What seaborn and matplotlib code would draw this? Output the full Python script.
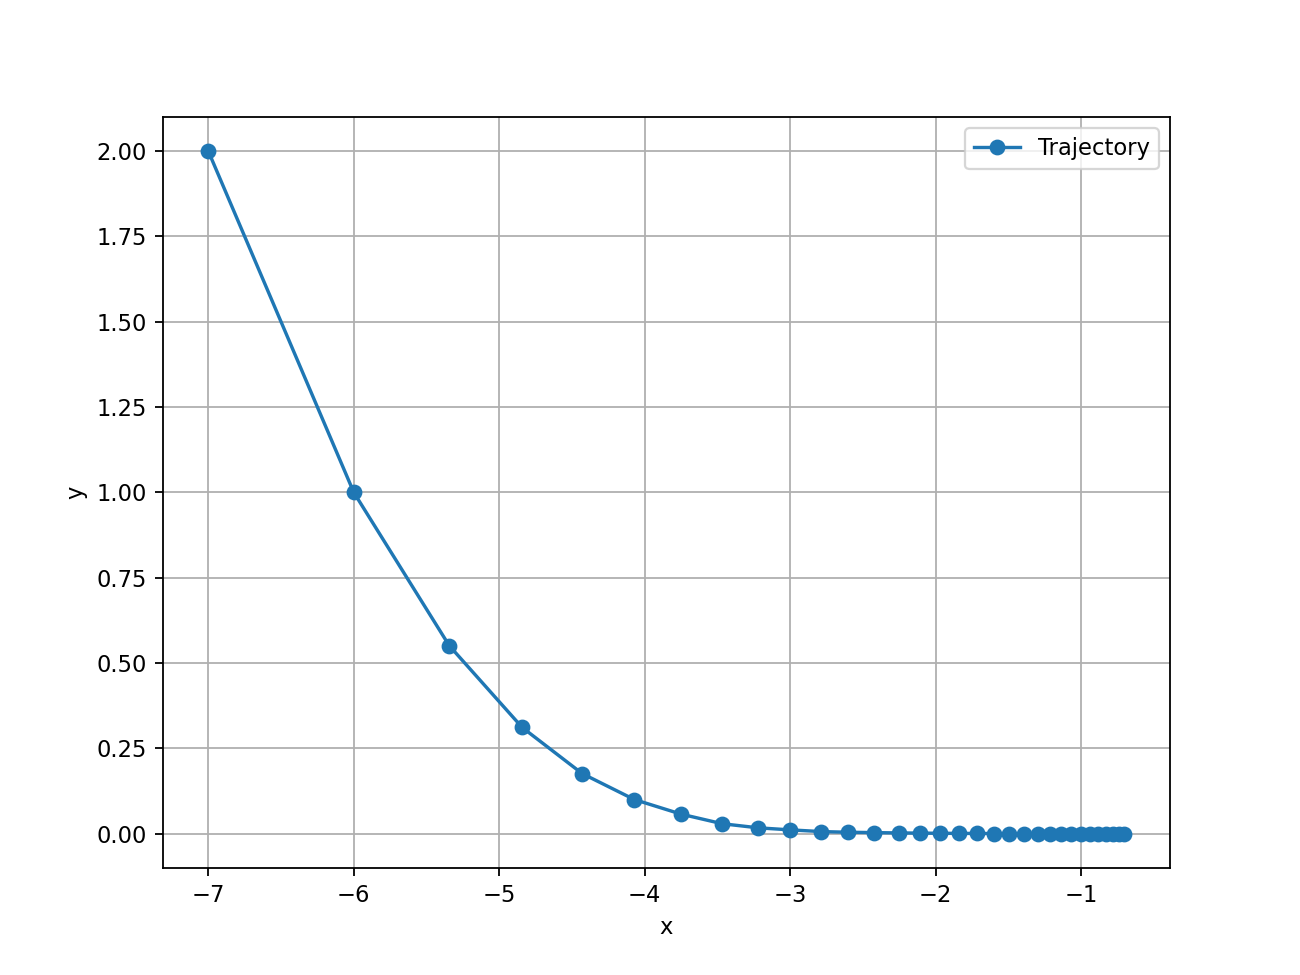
import seaborn as sns
import matplotlib.pyplot as plt
import pandas as pd

# --- Trajectory points ---
x_vals = [-7.0, -6.0, -5.344, -4.842, -4.430, -4.072, -3.749, -3.467, -3.220,
          -3.0, -2.787, -2.601, -2.423, -2.251, -2.107, -1.969, -1.838, -1.715,
          -1.598, -1.495, -1.392, -1.296, -1.213, -1.138, -1.069, -1.0, -0.938,
          -0.883, -0.828, -0.780, -0.739, -0.704]
y_vals = [2.0, 1.0, 0.551, 0.311, 0.176, 0.100, 0.057, 0.029, 0.017,
          0.011, 0.006, 0.004, 0.003, 0.002, 0.0015, 0.001, 0.0007, 0.0005,
          0.0003, 0.0002, 0.0001, 0.0001, 0.0, 0.0, 0.0, 0.0, 0.0,
          0.0, 0.0, 0.0, 0.0, 0.0]

data = pd.DataFrame({"x": x_vals, "y": y_vals})

fig, ax = plt.subplots(figsize=(8, 6))
sns.lineplot(
    data=data, x="x", y="y", sort=False, ax=ax,
    marker="o", color="#1f77b4", markersize=6,
    markeredgecolor="#1f77b4", markeredgewidth=1,
    label="Trajectory",
)

ax.set_xlabel("x")
ax.set_ylabel("y")
ax.grid(True)
ax.legend(loc="upper right")

plt.savefig("out.png", dpi=162.5)
plt.close()
